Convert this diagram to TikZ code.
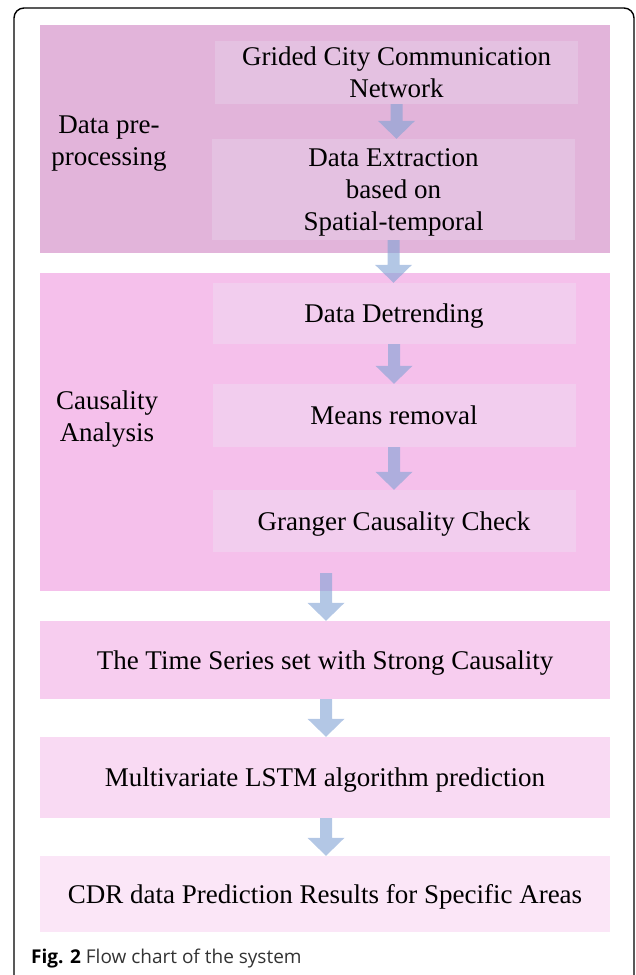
\documentclass[tikz,border=0pt]{standalone}
\usepackage{fontspec}
\setmainfont{Liberation Serif}
\newfontfamily\capfont{Open Sans}
\usetikzlibrary{calc}

% box fills
\definecolor{preBg}{RGB}{226,180,218}
\definecolor{preIn}{RGB}{228,193,225}
\definecolor{causBg}{RGB}{245,192,235}
\definecolor{causIn}{RGB}{242,205,238}
\definecolor{tsBg}{RGB}{247,205,239}
\definecolor{lstmBg}{RGB}{249,218,243}
\definecolor{cdrBg}{RGB}{251,230,247}
\definecolor{flowBlue}{RGB}{128,162,212}

\tikzset{
  boxfont/.style={font=\fontsize{27}{32}\selectfont, text depth=0pt},
  panel/.style={draw=none, inner sep=0pt, minimum width=570pt},
  stepbox/.style={draw=none, inner sep=0pt, minimum width=363pt, align=center, boxfont},
  wide/.style={panel, align=center, boxfont},
  sidelabel/.style={align=center, inner sep=0pt, boxfont},
  flowarrow/.style={fill=flowBlue, fill opacity=0.6, draw=none}
}

% thick block arrow from #1 straight down to #2 (tip at #2)
\newcommand\blockarrow[2]{%
  \fill[flowarrow] ($(#1)+(-6,0)$) -- ($(#2)+(-6,-18)$) -- ($(#2)+(-18.5,-18)$)
    -- (#2) -- ($(#2)+(18.5,-18)$) -- ($(#2)+(6,-18)$) -- ($(#1)+(6,0)$) -- cycle;}

\begin{document}
\begin{tikzpicture}[x=1pt,y=-1pt]
\useasboundingbox (0,0) rectangle (635,975);
\clip (0,0) rectangle (635,975);

% outer frame
\draw[line width=1.4pt, rounded corners=10pt] (14,1000) -- (14,8) -- (634,8) -- (634,1000);

% group panels
\node[panel, fill=preBg, minimum height=228pt] (pre) at (325,139) {};
\node[panel, fill=causBg, minimum height=318pt] (caus) at (325,432) {};

% steps inside the pre-processing panel
\node[stepbox, fill=preIn, minimum height=63pt] (grid) at (396.5,72.5)
  {Grided City Communication\\Network};
\node[stepbox, fill=preIn, minimum height=101pt] (extract) at (393.5,189.5)
  {Data Extraction\\based on\\Spatial-temporal};

% steps inside the causality panel
\node[stepbox, fill=causIn, minimum height=61pt] (detrend) at (394,313.5) {Data Detrending};
\node[stepbox, fill=causIn, minimum height=63pt] (means) at (394,415.5) {Means removal};
\node[stepbox, fill=causIn, minimum height=62pt] (granger) at (394,521) {Granger Causality Check};

% panel labels
\node[sidelabel] (prelabel) at (109,141) {Data pre-\\processing};
\node[sidelabel] (causlabel) at (107,416.5) {Causality\\Analysis};

% lower stages
\node[wide, fill=tsBg, minimum height=78pt] (ts) at (325,660)
  {The Time Series set with Strong Causality};
\node[wide, fill=lstmBg, minimum height=81pt] (lstm) at (325,777.5)
  {Multivariate LSTM algorithm prediction};
\node[wide, fill=cdrBg, minimum height=76pt] (cdr) at (325,894)
  {CDR data Prediction Results for Specific Areas};

% connectors
\coordinate (tsfeed) at (326,573);
\blockarrow{grid.south}{grid.south |- extract.north}
\blockarrow{extract.south}{extract.south |- detrend.north}
\blockarrow{detrend.south}{detrend.south |- means.north}
\blockarrow{means.south}{means.south |- granger.north}
\blockarrow{tsfeed}{tsfeed |- ts.north}
\blockarrow{ts.south -| tsfeed}{tsfeed |- lstm.north}
\blockarrow{lstm.south -| tsfeed}{tsfeed |- cdr.north}

% caption
\node[anchor=base west, inner sep=0pt, font=\capfont\fontsize{19}{23}\selectfont]
  (caption) at (31,963) {\textbf{Fig. 2} {\color{black!80}Flow chart of the system}};
\end{tikzpicture}
\end{document}
